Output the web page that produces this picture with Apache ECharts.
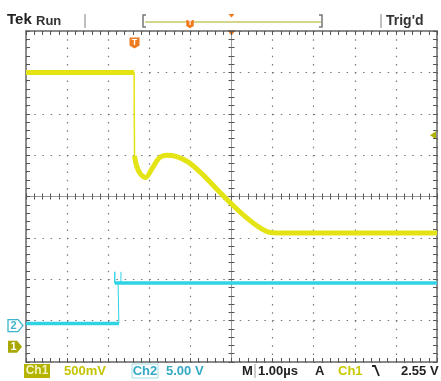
<!DOCTYPE html>
<html><head><meta charset="utf-8">
<script src="https://cdn.jsdelivr.net/npm/echarts@6/dist/echarts.min.js"></script>
<style>html,body{margin:0;padding:0;background:#fff}#c{width:441px;height:381px}</style>
</head><body><div id="c"></div>
<script>
// Horizontal: time in divisions from screen centre (1.00 µs/div)
// Vertical: screen divisions from centre (Ch1 500 mV/div, Ch2 5.00 V/div)
const ch1HighTime = [-5, -2.37];
const ch1HighDiv  = [3.0, 3.0];
const ch1EdgeTime = [-2.37, -2.36];
const ch1EdgeDiv  = [3.0, 0.98];
const ch1TailTime = [-2.36, -2.31, -2.22, -2.09, -1.93, -1.76, -1.58, -1.35, -1.05, -0.70, -0.35, 0.00, 0.35, 0.65, 0.90, 1.20, 5.0];
const ch1TailDiv  = [0.98, 0.74, 0.55, 0.46, 0.68, 0.93, 1.00, 0.97, 0.83, 0.53, 0.17, -0.18, -0.50, -0.73, -0.86, -0.88, -0.88];
const ch2LowTime  = [-5, -2.74];
const ch2LowDiv   = [-3.07, -3.07];
const ch2EdgeTime = [-2.74, -2.76, -2.84, -2.84, -2.84, -2.69, -2.69];
const ch2EdgeDiv  = [-3.07, -2.09, -2.09, -1.82, -2.09, -2.09, -1.82];
const ch2HighTime = [-2.84, 5.0];
const ch2HighDiv  = [-2.09, -2.09];
const ch1GroundDiv = -3.63;
const ch2GroundDiv = -3.12;
const trigLevelDiv = 1.48;
const trigTime = -2.36;
const topLabels = ['Tek', 'Run', "Trig'd"];
const bottomLabels = ['Ch1', '500mV', 'Ch2', '5.00 V', 'M', '1.00µs', 'A', 'Ch1', '2.55 V'];

const zip = (a, b) => a.map((v, i) => [v, b[i]]);
const YEL = '#e4e414', CYA = '#2fd3e3', GR = '#555';
const FONT = 'Liberation Sans';

const chart = echarts.init(document.getElementById('c'), null, {renderer: 'canvas'});

function ax(extra) {
  return Object.assign({
    type: 'value', axisLabel: {show: false},
    splitLine: {show: false},
    axisTick: {show: true, inside: true, length: 4, lineStyle: {color: GR, width: 1}},
    minorTick: {show: true, splitNumber: 5, length: 4, lineStyle: {color: GR, width: 1}},
    axisLine: {show: true, onZero: false, lineStyle: {color: '#666', width: 1.5}}
  }, extra);
}
function centerAx(pos, inside) {
  return {
    position: pos,
    axisLine: {show: true, onZero: true, onZeroAxisIndex: 0, lineStyle: {color: '#999', width: 1}},
    axisTick: {show: true, inside: inside, length: 3, lineStyle: {color: GR, width: 1}},
    minorTick: {show: true, splitNumber: 5, length: 3, lineStyle: {color: GR, width: 1}}
  };
}
const xr = {min: -5, max: 5, interval: 1};
const yr = {min: -4, max: 4, interval: 1};
const dotX = {show: true, lineStyle: {color: '#777', width: 1.2, type: [1.5, 6.77]}};
const dotY = {show: true, lineStyle: {color: '#777', width: 1.2, type: [1.5, 6.72]}};

chart.setOption({
  animation: false,
  backgroundColor: '#fff',
  grid: {left: 26, right: 4, top: 31, bottom: 19},
  xAxis: [
    ax(Object.assign({position: 'bottom', splitLine: dotX}, xr)),
    ax(Object.assign({position: 'top'}, xr)),
    ax(Object.assign(centerAx('bottom', true), xr)),
    ax(Object.assign(centerAx('bottom', false), xr))
  ],
  yAxis: [
    ax(Object.assign({position: 'left', splitLine: dotY}, yr)),
    ax(Object.assign({position: 'right'}, yr)),
    ax(Object.assign(centerAx('left', true), yr)),
    ax(Object.assign(centerAx('left', false), yr))
  ],
  series: [
    {type: 'line', data: zip(ch2LowTime, ch2LowDiv), showSymbol: false, lineStyle: {color: CYA, width: 3.5}},
    {type: 'line', data: zip(ch2EdgeTime, ch2EdgeDiv), showSymbol: false, lineStyle: {color: CYA, width: 1}},
    {type: 'line', data: zip(ch2HighTime, ch2HighDiv), showSymbol: false, lineStyle: {color: CYA, width: 3.5}},
    {type: 'line', data: zip(ch1HighTime, ch1HighDiv), showSymbol: false, lineStyle: {color: YEL, width: 5}},
    {type: 'line', data: zip(ch1EdgeTime, ch1EdgeDiv), showSymbol: false, lineStyle: {color: YEL, width: 1.5}},
    {type: 'line', data: zip(ch1TailTime, ch1TailDiv), showSymbol: false, smooth: 0.3, lineStyle: {color: YEL, width: 5}}
  ]
});

const p = (x, y) => chart.convertToPixel({gridIndex: 0}, [x, y]);
const g1 = p(0, ch1GroundDiv)[1], g2 = p(0, ch2GroundDiv)[1];
const tl = p(5, trigLevelDiv)[1];
const tx = p(trigTime, 4)[0];
const cx = p(0, 4)[0], topY = p(0, 4)[1];
const ORG = '#f07a1e';
function shield(x, y, s) {
  return [
    {type: 'polygon', shape: {points: [[x - 5*s, y - 5.5*s], [x + 5*s, y - 5.5*s], [x + 5*s, y + 2.5*s], [x, y + 5.5*s], [x - 5*s, y + 2.5*s]]}, style: {fill: ORG}},
    {type: 'text', x: x, y: y - 0.5*s, style: {text: 'T', fill: '#fff', font: 'bold ' + (9*s) + 'px ' + FONT, align: 'center', verticalAlign: 'middle'}}
  ];
}
const txt = (t, x, y, size, fill, align) => ({type: 'text', x: x, y: y, style: {text: t, fill: fill, font: 'bold ' + size + 'px ' + FONT, align: align || 'left', verticalAlign: 'middle'}});
const ln = (pts, stroke, w) => ({type: 'polyline', shape: {points: pts}, style: {stroke: stroke, lineWidth: w, fill: null}});

const bY = 371;
const graphics = [
  // top bar
  txt(topLabels[0], 7, 20, 15, '#222'),
  txt(topLabels[1], 36, 21, 13, '#333'),
  ln([[85, 14], [85, 28]], '#aaa', 1.5),
  ln([[146, 15], [143, 15], [143, 27], [146, 27]], '#777', 1.5),
  ln([[145, 22], [321, 22]], '#d6d68a', 2),
  ln([[319, 15], [322, 15], [322, 27], [319, 27]], '#777', 1.5),
  {type: 'polygon', shape: {points: [[cx - 3, 14], [cx + 3, 14], [cx, 17.5]]}, style: {fill: ORG}},
  ...shield(190, 24, 0.75),
  ln([[381, 14], [381, 28]], '#aaa', 1.5),
  txt(topLabels[2], 386, 21, 14, '#333'),
  // plot markers
  {type: 'polygon', shape: {points: [[cx - 4.5, topY - 1], [cx + 4.5, topY - 1], [cx, topY + 4.5]]}, style: {fill: ORG}},
  ...shield(tx, 43, 1),
  {type: 'polygon', shape: {points: [[8, g2 - 6], [18, g2 - 6], [23, g2], [18, g2 + 6], [8, g2 + 6]]}, style: {fill: '#fff', stroke: '#3ab5cb', lineWidth: 1.3}},
  txt('2', 13.5, g2, 11, '#3ab5cb', 'center'),
  {type: 'polygon', shape: {points: [[8, g1 - 6], [17, g1 - 6], [22, g1], [17, g1 + 6], [8, g1 + 6]]}, style: {fill: '#a8a800'}},
  txt('1', 13.5, g1, 11, '#fff', 'center'),
  {type: 'polygon', shape: {points: [[430, tl], [436, tl - 4], [436, tl + 4]]}, style: {fill: '#b0b000'}},
  // bottom bar
  {type: 'rect', shape: {x: 24, y: 364, width: 26, height: 14}, style: {fill: '#b3b300'}},
  txt(bottomLabels[0], 37, bY, 12, '#f4f4c0', 'center'),
  txt(bottomLabels[1], 64, bY, 13, '#c4c400'),
  {type: 'rect', shape: {x: 132, y: 364, width: 26, height: 14}, style: {fill: null, stroke: '#a4dfe8', lineWidth: 1}},
  txt(bottomLabels[2], 145, bY, 13, '#33a9c4', 'center'),
  txt(bottomLabels[3], 166, bY, 13, '#33a9c4'),
  txt(bottomLabels[4], 242, bY, 13, '#222'),
  ln([[255, 364], [255, 378]], '#999', 1),
  txt(bottomLabels[5], 258, bY, 13, '#222'),
  txt(bottomLabels[6], 315, bY, 13, '#222'),
  txt(bottomLabels[7], 338, bY, 13, '#c8c800'),
  ln([[372, 366], [375, 366], [379, 376]], '#222', 1.8),
  txt(bottomLabels[8], 401, bY, 13, '#222')
];
chart.setOption({graphic: graphics});
</script></body></html>
